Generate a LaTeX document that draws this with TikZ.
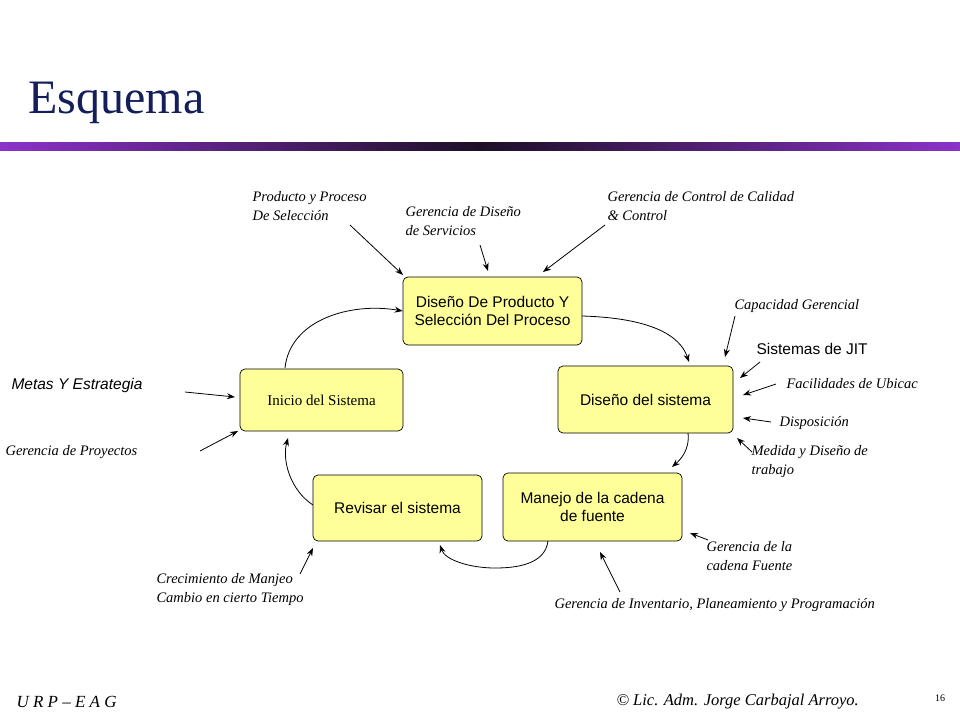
\documentclass[tikz,border=0pt]{standalone}
\usepackage{fontspec}
\setmainfont{Liberation Serif}
\newfontfamily\sfx{Liberation Sans}
\usetikzlibrary{arrows.meta}
\definecolor{boxy}{RGB}{255,255,153}
\definecolor{titleblue}{RGB}{20,30,90}
\definecolor{barp}{RGB}{140,50,200}
\definecolor{bard}{RGB}{30,15,40}
\begin{document}
\begin{tikzpicture}[x=1pt,y=-1pt,
 box/.style={draw=black,fill=boxy,rounded corners=5pt,line width=0.7pt,align=center,font=\sfx\fontsize{15.5}{18}\selectfont},
 lab/.style={anchor=west,align=left,font=\itshape\fontsize{14.5}{19}\selectfont},
 arr/.style={-{Stealth[length=8pt,width=6pt]},line width=0.8pt}]
\useasboundingbox (0,0) rectangle (960,720);
\node[anchor=west,text=titleblue,font=\fontsize{48}{56}\selectfont] (title) at (25,103) {Esquema};
\shade[left color=barp,right color=bard] (0,142) rectangle (480,150);
\shade[left color=bard,right color=barp] (480,142) rectangle (960,150);
% boxes
\node[box,minimum width=179,minimum height=68] (top) at (492.5,311) {Diseño De Producto Y\\Selección Del Proceso};
\node[box,minimum width=163,minimum height=62,font=\fontsize{15}{17}\selectfont] (ini) at (321.5,400) {Inicio del Sistema};
\node[box,minimum width=175,minimum height=67] (dsis) at (645.5,399.5) {Diseño del sistema};
\node[box,minimum width=169,minimum height=66] (rev) at (397.5,508) {Revisar el sistema};
\node[box,minimum width=179,minimum height=68] (man) at (592.5,507) {Manejo de la cadena\\de fuente};
% cycle arrows
\coordinate (m1) at (495,568);
\draw[arr] (285,368) .. controls (290,320) and (350,302) .. (top.west);
\draw[arr] (582,316) .. controls (650,318) and (680,335) .. (689,362);
\draw[arr] (688,433) .. controls (690,450) and (680,460) .. (672,467);
\draw[line width=0.8pt] (548,541) .. controls (545,565) and (515,568) .. (m1);
\draw[arr] (m1) .. controls (470,568) and (445,560) .. (440,545);
\draw[arr] (313,505) .. controls (290,490) and (282,460) .. (288,438);
% labels
\node[lab] (l1) at (249,206) {Producto y Proceso\\De Selección};
\node[lab] (l2) at (402,221) {Gerencia de Diseño\\de Servicios};
\node[lab] (l3) at (604,206) {Gerencia de Control de Calidad\\\& Control};
\node[lab] (l4) at (731,306) {Capacidad Gerencial};
\node[lab,font=\sfx\fontsize{15.5}{18}\selectfont] (l5) at (753,349) {Sistemas de JIT};
\node[lab] (l6) at (783,384) {Facilidades de Ubicac};
\node[lab] (l7) at (776,423) {Disposición};
\node[lab] (l8) at (748,462) {Medida y Diseño de\\trabajo};
\node[lab,font=\sfx\itshape\fontsize{15.5}{18}\selectfont] (l9) at (8,385) {Metas Y Estrategia};
\node[lab] (l10) at (2,452) {Gerencia de Proyectos};
\node[lab] (l11) at (703,556) {Gerencia de la\\cadena Fuente};
\node[lab] (l12) at (153,590) {Crecimiento de Manjeo\\Cambio en cierto Tiempo};
\node[lab] (l13) at (551,605) {Gerencia de Inventario, Planeamiento y Programación};
% coordinates for label arrows
\coordinate (a1) at (350,225); \coordinate (b1) at (403,275);
\coordinate (a2) at (480,245); \coordinate (b2) at (488,271);
\coordinate (a3) at (605,225); \coordinate (b3) at (543,272);
\coordinate (a4) at (735,316); \coordinate (b4) at (725,357);
\coordinate (a5) at (760,362); \coordinate (b5) at (740,378);
\coordinate (a6) at (776,384); \coordinate (b6) at (743,395);
\coordinate (a7) at (771,422); \coordinate (b7) at (743,418);
\coordinate (a8) at (752,452); \coordinate (b8) at (737,438);
\coordinate (a9) at (185,392); \coordinate (b9) at (235,397);
\coordinate (a10) at (200,451); \coordinate (b10) at (238,431);
\coordinate (a11) at (708,540); \coordinate (b11) at (690,533);
\coordinate (a12) at (300,574); \coordinate (b12) at (313,548);
\coordinate (a13) at (620,592); \coordinate (b13) at (600,552);
\foreach \i in {1,...,13} {\draw[arr] (a\i) -- (b\i);}
% footer
\node[anchor=west,font=\itshape\fontsize{17}{19}\selectfont] (f1) at (13,702) {U R P – E A G};
\node[anchor=west,font=\itshape\fontsize{16.5}{19}\selectfont] (f2) at (613,702) {© Lic. Adm. Jorge Carbajal Arroyo.};
\node[font=\fontsize{10}{12}\selectfont] (f3) at (940,698) {16};
\end{tikzpicture}
\end{document}
